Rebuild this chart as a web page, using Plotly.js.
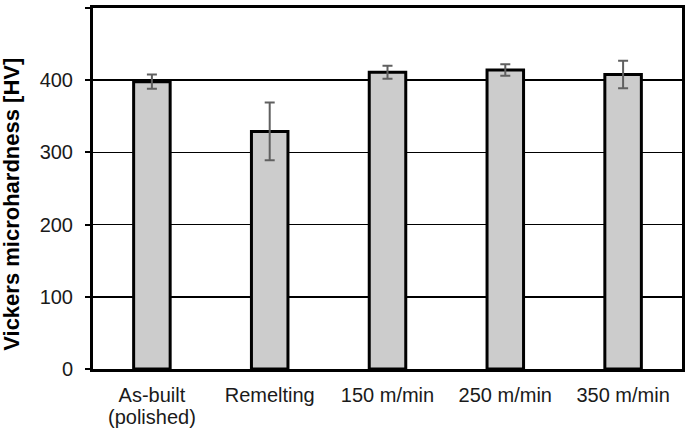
<!DOCTYPE html>
<html>
<head>
<meta charset="utf-8">
<script src="https://cdn.plot.ly/plotly-3.0.1.min.js"></script>
<style>html,body{margin:0;padding:0;background:#fff;}#chart{width:685px;height:430px;}</style>
</head>
<body>
<div id="chart"></div>
<script>
const categories = ["As-built", "Remelting", "150 m/min", "250 m/min", "350 m/min"];
const subLabels = ["(polished)", "", "", "", ""];
const hardness = [398, 329, 411, 414, 408];
const hardnessError = [10, 40, 9, 8, 19];
const yTickValues = [0, 100, 200, 300, 400, 500];
const yTitle = "Vickers microhardness [HV]";

const trace = {
  type: "bar",
  x: categories,
  y: hardness,
  width: 0.31,
  marker: {color: "#cccccc", line: {color: "#000000", width: 3}},
  error_y: {type: "data", array: hardnessError, visible: true, color: "#606060", thickness: 2, width: 5},
  hoverinfo: "none"
};

const annotations = [{
  text: "<b>" + yTitle + "</b>",
  textangle: -90,
  xref: "paper", yref: "paper",
  x: -0.1375, y: 0.455,
  xanchor: "center", yanchor: "middle",
  showarrow: false,
  font: {size: 22, color: "#000"}
}];
categories.forEach((c, i) => {
  if (subLabels[i]) {
    annotations.push({
      text: subLabels[i],
      xref: "x", yref: "paper",
      x: c, y: -0.133,
      xanchor: "center", yanchor: "middle",
      showarrow: false,
      font: {size: 20, color: "#1a1a1a"}
    });
  }
});

const layout = {
  width: 685, height: 430,
  margin: {l: 93, r: 3, t: 8, b: 61},
  paper_bgcolor: "#ffffff", plot_bgcolor: "#ffffff",
  showlegend: false,
  font: {family: "Liberation Sans, Arial, sans-serif", size: 20, color: "#1a1a1a"},
  xaxis: {
    type: "category",
    showline: true, linecolor: "#000", linewidth: 3, mirror: true,
    ticks: "", showgrid: false, zeroline: false,
    ticklabelstandoff: 6,
    tickfont: {size: 20}
  },
  yaxis: {
    range: [0, 500],
    tickvals: yTickValues,
    showline: true, linecolor: "#000", linewidth: 3, mirror: true,
    ticks: "outside", ticklen: 5, tickwidth: 2, tickcolor: "#000",
    showgrid: true, gridcolor: "#000", gridwidth: 1.5,
    zeroline: false,
    ticklabelstandoff: 8,
    tickfont: {size: 20}
  },
  annotations: annotations
};

Plotly.newPlot("chart", [trace], layout, {displayModeBar: false, staticPlot: true});
</script>
</body>
</html>
